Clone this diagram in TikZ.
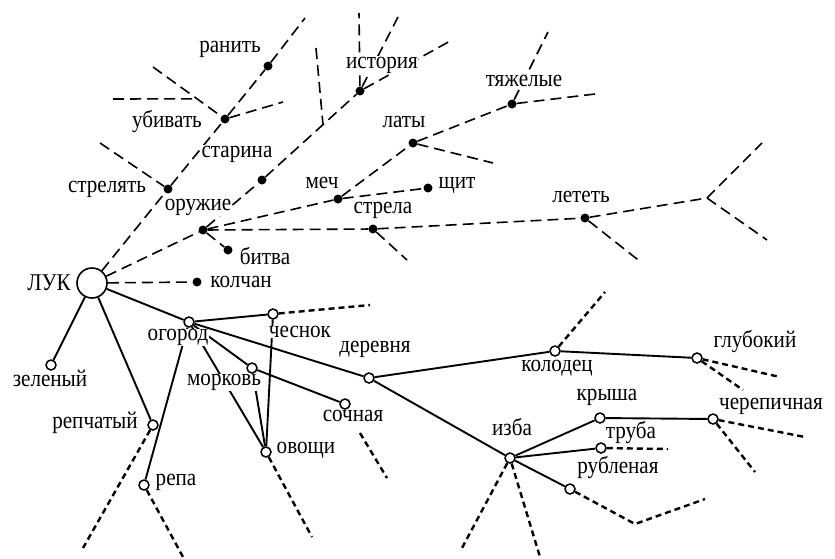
\documentclass[tikz,border=0pt]{standalone}
\usepackage{fontspec}
\setmainfont{Liberation Serif}[FakeStretch=0.88]
\pgfdeclarelayer{bg}
\pgfdeclarelayer{labl}
\pgfsetlayers{bg,labl,main}
\begin{document}
\begin{tikzpicture}[x=1pt,y=-1pt,
  dot/.style={circle,fill=black,inner sep=0pt,minimum size=9pt},
  oc/.style={circle,draw,line width=1.5pt,fill=white,inner sep=0pt,minimum size=10pt},
  big/.style={circle,draw,line width=1.6pt,fill=white,inner sep=0pt,minimum size=30pt},
  lab/.style={font=\fontsize{24}{26}\selectfont,inner sep=0.3pt,fill=white},
  up/.style={line width=1.6pt,dash pattern=on 11pt off 6pt},
  lo/.style={line width=2.4pt,dash pattern=on 6pt off 4pt},
  sol/.style={line width=1.9pt}]
\useasboundingbox (0,0) rectangle (835,558);
% upper network nodes
\node[big] (luk) at (92,283) {};
\node[dot] (strel) at (168,189) {};
\node[dot] (ubiv) at (225,119) {};
\node[dot] (ranit) at (268,66) {};
\node[dot] (oruzh) at (203,230) {};
\node[dot] (starina) at (262,180) {};
\node[dot] (istor) at (360,91) {};
\node[dot] (bitva) at (228,250) {};
\node[dot] (kolchan) at (197,282) {};
\node[dot] (mech) at (338,199) {};
\node[dot] (shchit) at (428,188) {};
\node[dot] (laty) at (413,143) {};
\node[dot] (tyazh) at (512,104) {};
\node[dot] (strela) at (373,229) {};
\node[dot] (letet) at (585,218) {};
% free ends (upper)
\coordinate (e1) at (305,18);
\coordinate (e2) at (100,143);
\coordinate (e3) at (153,67);
\coordinate (e3b) at (197,98.8);
\coordinate (e4) at (113,99);
\coordinate (e5) at (283,102);
\coordinate (br1) at (323,124.6);
\coordinate (e6) at (316,48);
\coordinate (e7) at (359,13);
\coordinate (e8) at (398,17);
\coordinate (e9) at (452,40);
\coordinate (e10) at (595,94);
\coordinate (e11) at (548,32);
\coordinate (e12) at (493,163);
\coordinate (fork) at (707,198);
\coordinate (e13) at (762,143);
\coordinate (e14) at (767,240);
\coordinate (e15) at (642,263);
\coordinate (e16) at (407,260);
% lower network nodes
\node[oc] (ogorod) at (189,322) {};
\node[oc] (zelen) at (51,365) {};
\node[oc] (repch) at (153,425) {};
\node[oc] (repa) at (144,485) {};
\node[oc] (chesnok) at (273,314) {};
\node[oc] (morkov) at (252,368) {};
\node[oc] (ovoshchi) at (266,452) {};
\node[oc] (sochn) at (345,404) {};
\node[oc] (derevn) at (369,378) {};
\node[oc] (izba) at (510,458) {};
\node[oc] (kolod) at (555,351) {};
\node[oc] (glub) at (697,358) {};
\node[oc] (krysha) at (600,418) {};
\node[oc] (cherep) at (713,419) {};
\node[oc] (truba) at (601,448) {};
\node[oc] (rubl) at (570,489) {};
% free ends (lower)
\coordinate (f1) at (370,305);
\coordinate (f2) at (83,548);
\coordinate (f3) at (183,557);
\coordinate (f4) at (312,537);
\coordinate (f5a) at (360,433);
\coordinate (f5b) at (387,478);
\coordinate (f6) at (462,548);
\coordinate (f7) at (540,557);
\coordinate (f8) at (605,292);
\coordinate (f9) at (780,377);
\coordinate (f10) at (743,390);
\coordinate (f11) at (805,437);
\coordinate (f12) at (755,472);
\coordinate (f13) at (668,449);
\coordinate (f14) at (635,524);
\coordinate (f15) at (705,499);
\begin{pgfonlayer}{bg}
% upper dashed connectors
\draw[up] (luk) -- (strel) -- (ubiv) -- (ranit) -- (e1);
\draw[up] (e2) -- (strel);
\draw[up] (e3) -- (ubiv);
\draw[up] (e4) -- (e3b);
\draw[up] (ubiv) -- (e5);
\draw[up] (luk) -- (oruzh);
\draw[up] (oruzh) -- (starina) -- (br1) -- (istor);
\draw[up] (e6) -- (br1);
\draw[up] (istor) -- (e7);
\draw[up] (istor) -- (e8);
\draw[up] (istor) -- (e9);
\draw[up] (oruzh) -- (mech) -- (laty) -- (tyazh) -- (e10);
\draw[up] (tyazh) -- (e11);
\draw[up] (laty) -- (e12);
\draw[up] (mech) -- (shchit);
\draw[up] (oruzh) -- (strela) -- (letet) -- (fork);
\draw[up] (fork) -- (e13);
\draw[up] (fork) -- (e14);
\draw[up] (letet) -- (e15);
\draw[up] (strela) -- (e16);
\draw[up] (oruzh) -- (bitva);
\draw[up] (luk) -- (kolchan);
% solid connectors
\draw[sol] (luk) -- (zelen);
\draw[sol] (luk) -- (repch);
\draw[sol] (luk) -- (ogorod);
\draw[sol] (ogorod) -- (derevn);
\draw[sol] (derevn) -- (izba);
\draw[sol] (derevn) -- (kolod);
\draw[sol] (kolod) -- (glub);
\draw[sol] (izba) -- (krysha);
\draw[sol] (krysha) -- (cherep);
\draw[sol] (izba) -- (truba);
\draw[sol] (izba) -- (rubl);
\draw[sol] (ogorod) -- (chesnok);
\draw[sol] (ogorod) -- (morkov);
\draw[sol] (morkov) -- (sochn);
\draw[sol] (ogorod) -- (ovoshchi);
\draw[sol] (morkov) -- (ovoshchi);
\draw[sol] (chesnok) -- (ovoshchi);
\draw[sol] (ogorod) -- (repa);
% lower dashed connectors
\draw[lo] (chesnok) -- (f1);
\draw[lo] (repch) -- (f2);
\draw[lo] (repa) -- (f3);
\draw[lo] (ovoshchi) -- (f4);
\draw[lo] (f5a) -- (f5b);
\draw[lo] (izba) -- (f6);
\draw[lo] (izba) -- (f7);
\draw[lo] (kolod) -- (f8);
\draw[lo] (glub) -- (f9);
\draw[lo] (glub) -- (f10);
\draw[lo] (cherep) -- (f11);
\draw[lo] (cherep) -- (f12);
\draw[lo] (truba) -- (f13);
\draw[lo] (rubl) -- (f14) -- (f15);
\end{pgfonlayer}
\begin{pgfonlayer}{labl}
% labels
\node[lab] (tluk) at (49,283) {ЛУК};
\node[lab] (tstrel) at (107,189) {стрелять};
\node[lab] (tubiv) at (167,121) {убивать};
\node[lab] (tranit) at (230,49) {ранить};
\node[lab] (toruzh) at (198,207) {оружие};
\node[lab] (tstarina) at (237,154) {старина};
\node[lab] (tistor) at (382,65) {история};
\node[lab] (tbitva) at (265,256) {битва};
\node[lab] (tkolchan) at (241,282) {колчан};
\node[lab] (tmech) at (322,183) {меч};
\node[lab] (tshchit) at (457,185) {щит};
\node[lab] (tlaty) at (404,122) {латы};
\node[lab] (ttyazh) at (524,81) {тяжелые};
\node[lab] (tstrela) at (383,210) {стрела};
\node[lab] (tletet) at (581,197) {лететь};
\node[lab] (togorod) at (178,337) {огород};
\node[lab] (tzelen) at (50,378) {зеленый};
\node[lab] (trepch) at (95,423) {репчатый};
\node[lab] (trepa) at (176,482) {репа};
\node[lab] (tchesnok) at (300,332) {чеснок};
\node[lab] (tmorkov) at (224,382) {морковь};
\node[lab] (tovoshchi) at (306,450) {овощи};
\node[lab] (tsochn) at (353,416) {сочная};
\node[lab] (tderevn) at (375,349) {деревня};
\node[lab] (tizba) at (512,427) {изба};
\node[lab] (tkolod) at (557,368) {колодец};
\node[lab] (tglub) at (755,341) {глубокий};
\node[lab] (tkrysha) at (607,397) {крыша};
\node[lab] (tcherep) at (771,406) {черепичная};
\node[lab] (ttruba) at (631,432) {труба};
\node[lab] (trubl) at (618,467) {рубленая};
\end{pgfonlayer}
\end{tikzpicture}
\end{document}
